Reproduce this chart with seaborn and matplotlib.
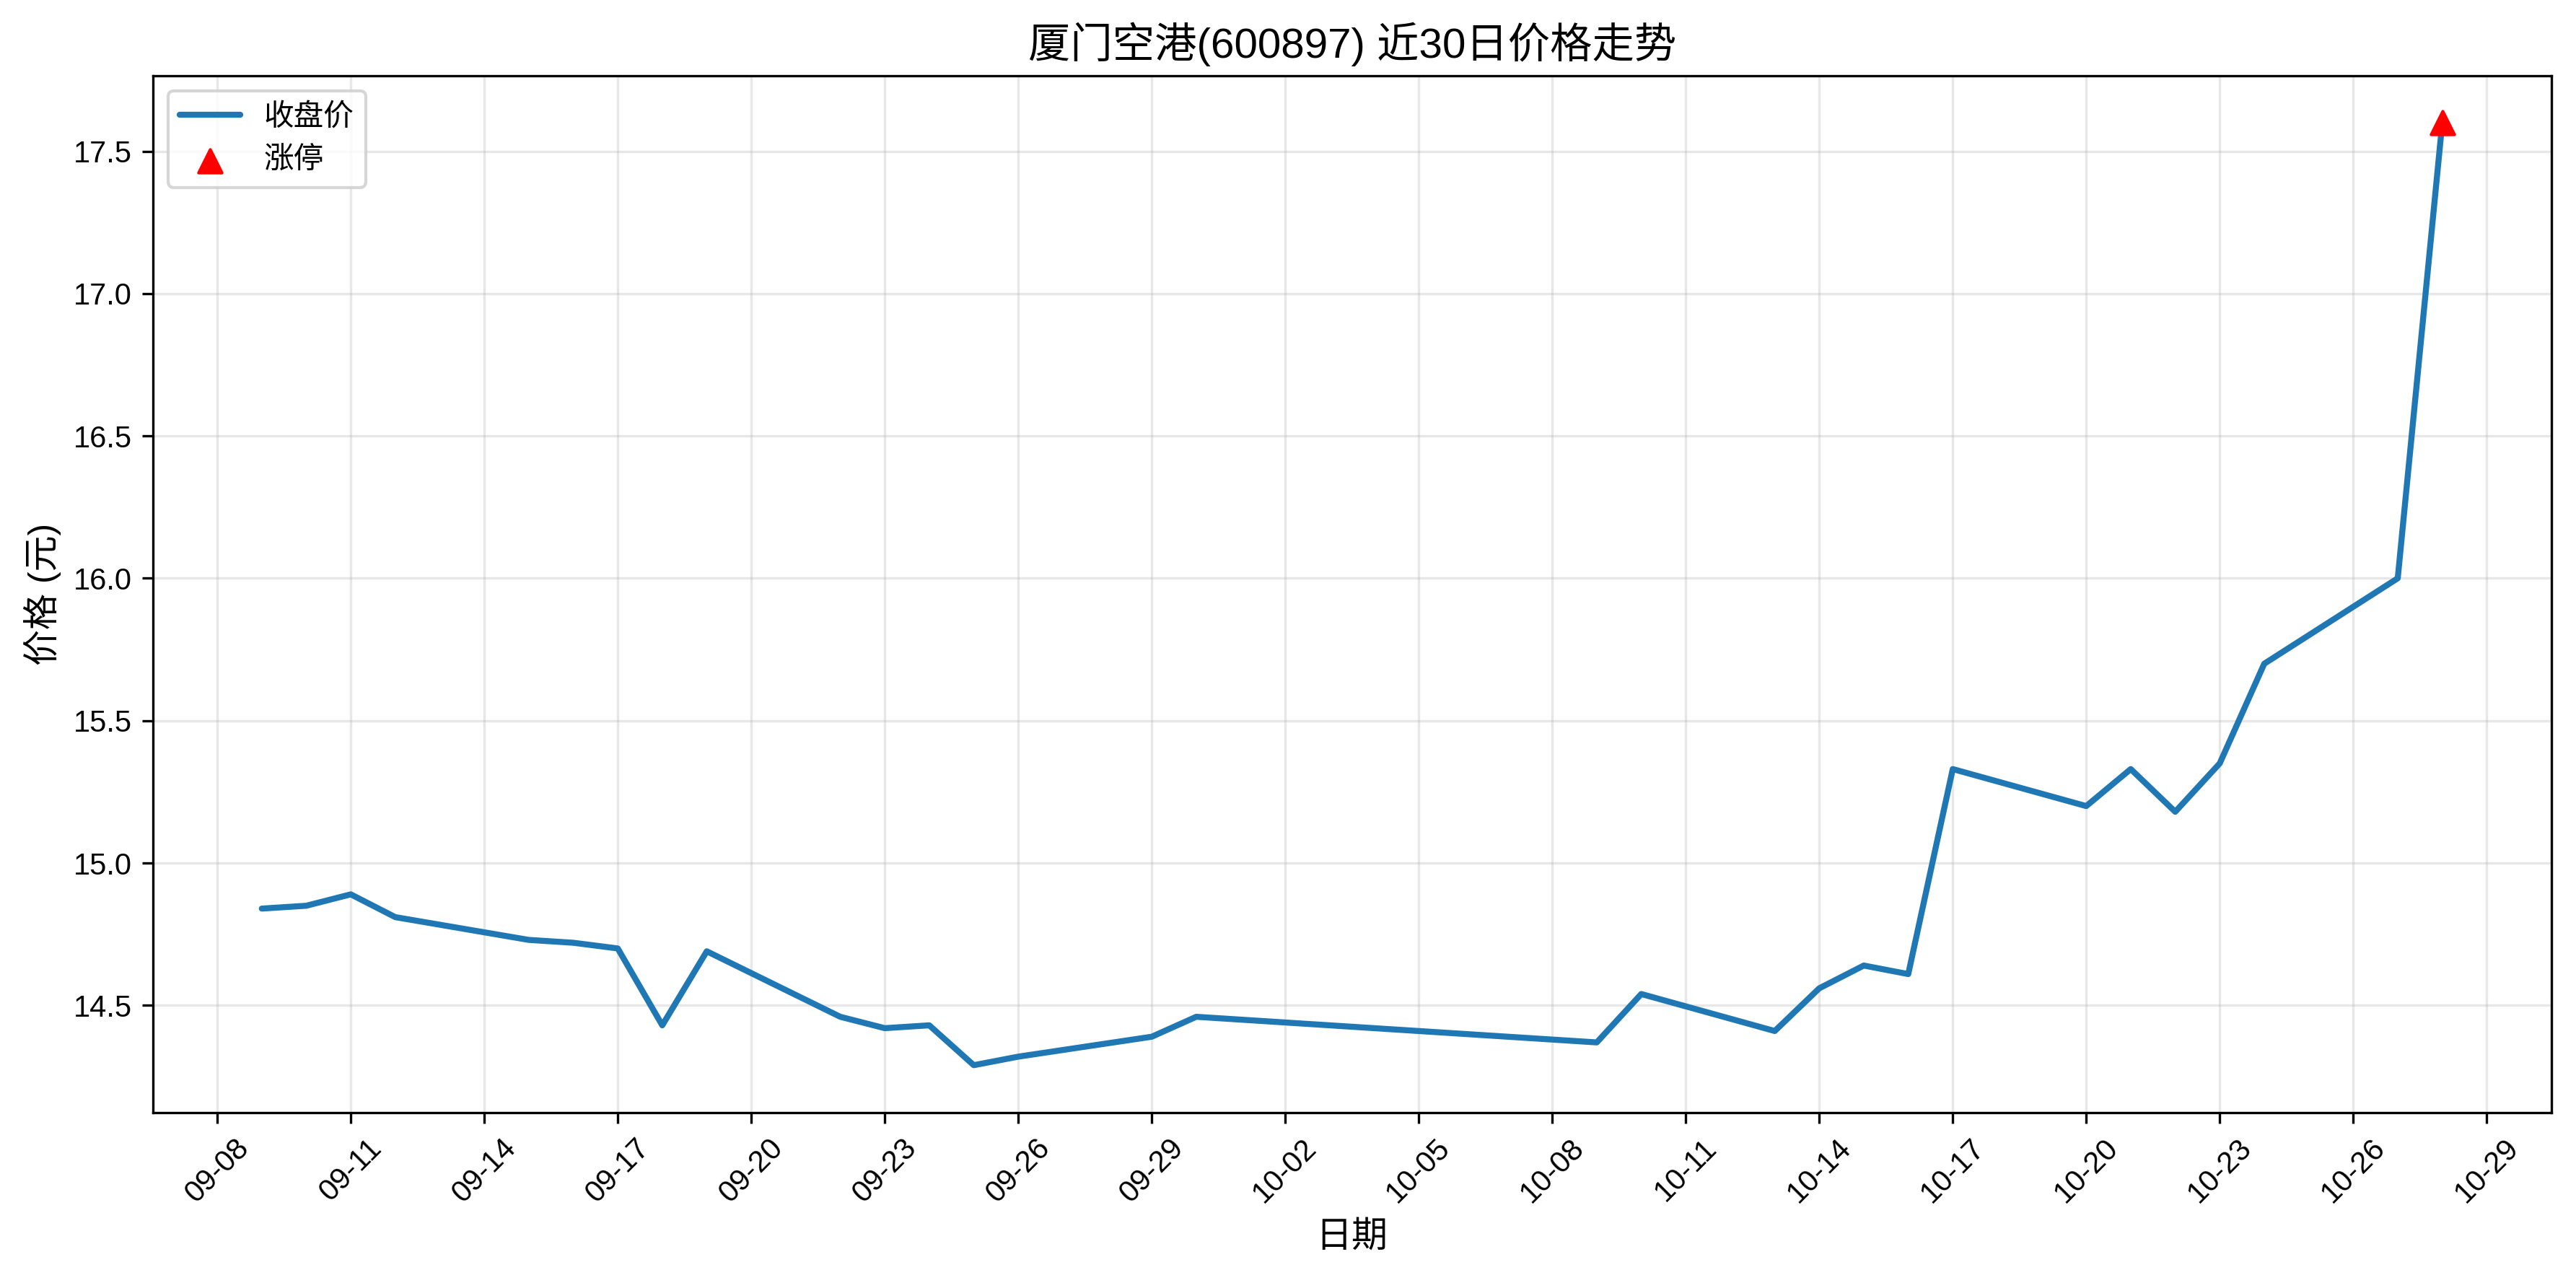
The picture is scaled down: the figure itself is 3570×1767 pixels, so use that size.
import matplotlib
matplotlib.use("Agg")
import matplotlib.pyplot as plt
import matplotlib.dates as mdates
import seaborn as sns
import pandas as pd

dates = ["2025-09-09", "2025-09-10", "2025-09-11", "2025-09-12", "2025-09-15",
         "2025-09-16", "2025-09-17", "2025-09-18", "2025-09-19", "2025-09-22",
         "2025-09-23", "2025-09-24", "2025-09-25", "2025-09-26", "2025-09-29",
         "2025-09-30", "2025-10-09", "2025-10-10", "2025-10-13", "2025-10-14",
         "2025-10-15", "2025-10-16", "2025-10-17", "2025-10-20", "2025-10-21",
         "2025-10-22", "2025-10-23", "2025-10-24", "2025-10-27", "2025-10-28"]
close = [14.84, 14.85, 14.89, 14.81, 14.73,
         14.72, 14.70, 14.43, 14.69, 14.46,
         14.42, 14.43, 14.29, 14.32, 14.39,
         14.46, 14.37, 14.54, 14.41, 14.56,
         14.64, 14.61, 15.33, 15.20, 15.33,
         15.18, 15.35, 15.70, 16.00, 17.60]
limit_up_dates = ["2025-10-28"]
limit_up_prices = [17.60]

title = "厦门空港(600897) 近30日价格走势"
xlabel = "日期"
ylabel = "价格 (元)"

sns.set_style("ticks")
plt.rcParams['font.family'] = ['Liberation Sans', 'Noto Sans CJK SC', 'DejaVu Sans']
plt.rcParams['axes.unicode_minus'] = False
plt.rcParams['text.color'] = 'black'
plt.rcParams['axes.labelcolor'] = 'black'
plt.rcParams['xtick.color'] = 'black'
plt.rcParams['ytick.color'] = 'black'

df = pd.DataFrame({"date": pd.to_datetime(dates), "close": close})
lu = pd.DataFrame({"date": pd.to_datetime(limit_up_dates), "price": limit_up_prices})

fig, ax = plt.subplots(figsize=(11.9, 5.89), dpi=300)
fig.subplots_adjust(left=0.0593, right=0.9904, top=0.9407, bottom=0.1276)

sns.lineplot(data=df, x="date", y="close", ax=ax, color="#1f77b4", linewidth=2, label="收盘价")
ax.scatter(lu["date"], lu["price"], color="red", marker="^", s=60, zorder=5, label="涨停")

ticks = pd.date_range("2025-09-08", "2025-10-29", freq="3D")
ax.set_xticks(ticks)
ax.xaxis.set_major_formatter(mdates.DateFormatter("%m-%d"))
plt.setp(ax.get_xticklabels(), rotation=45)
ax.tick_params(axis='both', labelsize=10, direction='out', length=3.5, width=0.8,
               color='black', labelcolor='black')

for s in ax.spines.values():
    s.set_visible(True)
    s.set_color('black')
    s.set_linewidth(0.8)

ax.grid(True, alpha=0.3, color='#b0b0b0', linewidth=0.8)
ax.set_title(title, fontsize=14, color='black')
ax.set_xlabel(xlabel, fontsize=12, color='black')
ax.set_ylabel(ylabel, fontsize=12, color='black')
leg = ax.legend(loc="upper left", fontsize=10)
for t in leg.get_texts():
    t.set_color('black')

fig.savefig("out.png", dpi=300)
